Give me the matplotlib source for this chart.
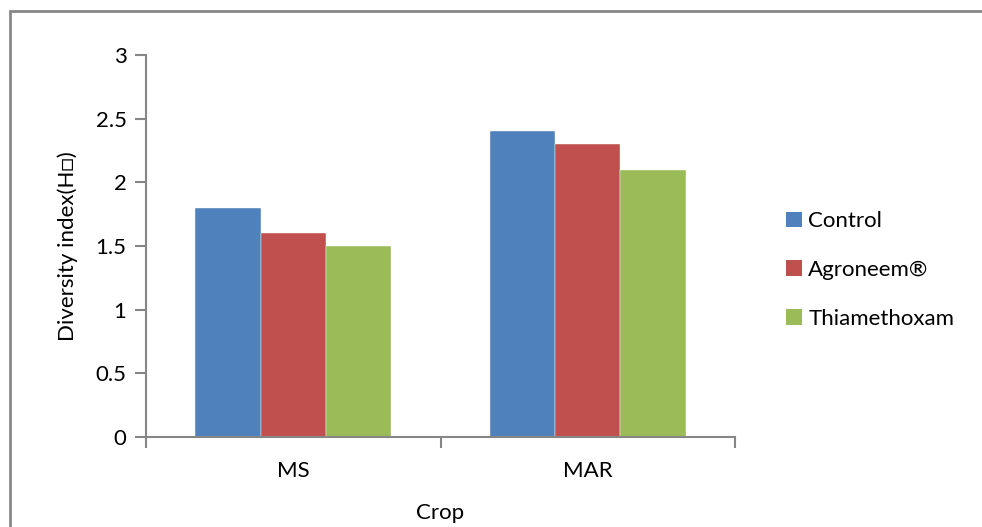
import matplotlib
matplotlib.use("Agg")
from matplotlib import pyplot as plt
from matplotlib.patches import Rectangle, Patch
import numpy as np

plt.rcParams['font.family'] = ['Lato', 'DejaVu Sans']

crops = ['MS', 'MAR']
treatments = ['Control', 'Agroneem®', 'Thiamethoxam']
control = [1.8, 2.4]
agroneem = [1.6, 2.3]
thiamethoxam = [1.5, 2.1]
colors = ['#4F81BD', '#C0504D', '#9BBB59']

fig = plt.figure(figsize=(9.82, 5.27), dpi=100)
ax = fig.add_axes([146/982, 1-437/527, 589/982, 382/527])

x = np.arange(len(crops))
w = 0.222
for i, (vals, c, lab) in enumerate(zip([control, agroneem, thiamethoxam], colors, treatments)):
    ax.bar(x + (i - 1) * w, vals, w, color=c, label=lab, edgecolor='white', linewidth=0.3)

fs = 16
ax.set_xlim(-0.5, 1.5)
ax.set_ylim(0, 3)
ax.set_yticks([0, 0.5, 1, 1.5, 2, 2.5, 3])
ax.set_yticklabels(['0', '0.5', '1', '1.5', '2', '2.5', '3'])
ax.set_xticks(x)
ax.set_xticklabels(crops)
ax.set_xticks([-0.5, 0.5, 1.5], minor=True)
ax.tick_params(axis='x', which='major', length=0, pad=17, labelsize=fs)
ax.tick_params(axis='x', which='minor', length=8, width=1.5, color='#868686')
ax.tick_params(axis='y', length=8, width=1.5, color='#868686', labelsize=fs, pad=6)
for s in ['top', 'right']:
    ax.spines[s].set_visible(False)
for s in ['left', 'bottom']:
    ax.spines[s].set_color('#868686')
    ax.spines[s].set_linewidth(1.5)

ax.set_xlabel('Crop', fontsize=fs, labelpad=16)
ax.set_ylabel('Diversity index(H\u25a1)', fontsize=fs, labelpad=13)

handles = [Patch(facecolor=c) for c in colors]
fig.legend(handles, treatments, loc='center left', bbox_to_anchor=(766/982, 1-270/527),
           frameon=False, fontsize=fs, handlelength=0.7, handleheight=0.7,
           handletextpad=0.3, labelspacing=1.3)

border = Rectangle((10/982, -0.05), 1.1, 1 - 11/527 + 0.05, transform=fig.transFigure,
                   fill=False, edgecolor='#888888', linewidth=2, clip_on=False)
fig.patches.append(border)

fig.savefig('out.png', dpi=100)
